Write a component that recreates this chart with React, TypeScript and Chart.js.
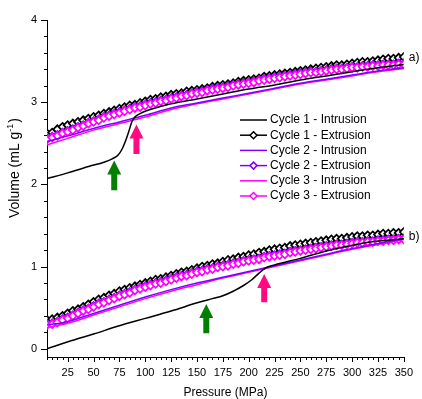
import React, { useEffect, useRef } from "react";
import { Chart, registerables } from "chart.js";
Chart.register(...registerables);

// ---------- DATA ----------
// Extrusion pressures (MPa)
const pressureExt = [
  5, 10, 15, 20, 25, 30, 35, 40, 45, 50, 55, 60, 65, 70, 75, 80, 85, 90, 95, 100,
  105, 110, 115, 120, 125, 130, 135, 140, 145, 150, 155, 160, 165, 170, 175, 180, 185, 190, 195, 200,
  205, 210, 215, 220, 225, 230, 235, 240, 245, 250, 255, 260, 265, 270, 275, 280, 285, 290, 295, 300,
  305, 310, 315, 320, 325, 330, 335, 340, 345, 350,
];

// Panel a) extrusion volumes (mL/g)
const cycle1ExtA = [
  2.62, 2.63, 2.67, 2.70, 2.72, 2.74, 2.76, 2.78, 2.80, 2.82, 2.84, 2.86, 2.88, 2.90, 2.92, 2.94, 2.96, 2.97, 2.99, 3.01,
  3.03, 3.04, 3.06, 3.07, 3.09, 3.10, 3.11, 3.13, 3.14, 3.15, 3.16, 3.17, 3.19, 3.20, 3.21, 3.22, 3.23, 3.25, 3.26, 3.27,
  3.28, 3.29, 3.31, 3.32, 3.33, 3.34, 3.35, 3.36, 3.37, 3.38, 3.39, 3.40, 3.41, 3.42, 3.43, 3.44, 3.45, 3.45, 3.46, 3.47,
  3.48, 3.49, 3.49, 3.50, 3.51, 3.52, 3.53, 3.53, 3.54, 3.55,
];
const cycle2ExtA = [
  2.56, 2.58, 2.60, 2.63, 2.65, 2.67, 2.70, 2.72, 2.75, 2.77, 2.79, 2.82, 2.84, 2.86, 2.88, 2.90, 2.92, 2.94, 2.95, 2.97,
  2.99, 3.00, 3.02, 3.03, 3.05, 3.06, 3.08, 3.09, 3.11, 3.12, 3.13, 3.15, 3.16, 3.17, 3.18, 3.19, 3.21, 3.22, 3.23, 3.24,
  3.25, 3.27, 3.28, 3.29, 3.30, 3.31, 3.32, 3.33, 3.34, 3.35, 3.36, 3.37, 3.37, 3.38, 3.39, 3.40, 3.41, 3.41, 3.42, 3.43,
  3.43, 3.44, 3.44, 3.45, 3.45, 3.46, 3.46, 3.46, 3.47, 3.47,
];
const cycle3ExtA = [
  2.55, 2.57, 2.59, 2.62, 2.64, 2.66, 2.69, 2.71, 2.74, 2.76, 2.78, 2.81, 2.83, 2.85, 2.87, 2.89, 2.91, 2.93, 2.94, 2.96,
  2.98, 2.99, 3.01, 3.02, 3.04, 3.05, 3.07, 3.08, 3.10, 3.11, 3.12, 3.14, 3.15, 3.16, 3.17, 3.18, 3.20, 3.21, 3.22, 3.23,
  3.24, 3.26, 3.27, 3.28, 3.29, 3.30, 3.31, 3.32, 3.33, 3.34, 3.35, 3.36, 3.36, 3.37, 3.38, 3.39, 3.40, 3.40, 3.41, 3.42,
  3.42, 3.43, 3.43, 3.44, 3.44, 3.45, 3.45, 3.45, 3.46, 3.46,
];

// Panel b) extrusion volumes (mL/g)
const cycle1ExtB = [
  0.35, 0.36, 0.38, 0.40, 0.43, 0.46, 0.48, 0.51, 0.54, 0.57, 0.60, 0.62, 0.65, 0.67, 0.70, 0.72, 0.74, 0.76, 0.78, 0.80,
  0.82, 0.84, 0.85, 0.87, 0.89, 0.91, 0.93, 0.94, 0.96, 0.98, 1.00, 1.01, 1.03, 1.04, 1.06, 1.08, 1.09, 1.11, 1.12, 1.14,
  1.15, 1.17, 1.18, 1.20, 1.21, 1.22, 1.23, 1.25, 1.26, 1.27, 1.28, 1.29, 1.30, 1.31, 1.32, 1.33, 1.34, 1.34, 1.35, 1.36,
  1.37, 1.37, 1.38, 1.38, 1.39, 1.40, 1.40, 1.41, 1.41, 1.42,
];
const cycle2ExtB = [
  0.30, 0.31, 0.33, 0.36, 0.38, 0.41, 0.44, 0.47, 0.49, 0.52, 0.55, 0.57, 0.60, 0.62, 0.65, 0.67, 0.69, 0.72, 0.74, 0.76,
  0.78, 0.80, 0.81, 0.83, 0.85, 0.87, 0.89, 0.90, 0.92, 0.94, 0.95, 0.97, 0.98, 1.00, 1.01, 1.02, 1.04, 1.05, 1.07, 1.08,
  1.09, 1.10, 1.12, 1.13, 1.14, 1.15, 1.16, 1.18, 1.19, 1.20, 1.21, 1.22, 1.23, 1.24, 1.25, 1.26, 1.27, 1.27, 1.28, 1.29,
  1.30, 1.30, 1.31, 1.31, 1.32, 1.32, 1.33, 1.33, 1.34, 1.34,
];
const cycle3ExtB = [
  0.29, 0.30, 0.32, 0.35, 0.37, 0.40, 0.43, 0.46, 0.48, 0.51, 0.54, 0.56, 0.59, 0.61, 0.64, 0.66, 0.68, 0.71, 0.73, 0.75,
  0.77, 0.79, 0.80, 0.82, 0.84, 0.86, 0.88, 0.89, 0.91, 0.93, 0.94, 0.96, 0.97, 0.99, 1.00, 1.01, 1.03, 1.04, 1.06, 1.07,
  1.08, 1.09, 1.11, 1.12, 1.13, 1.14, 1.15, 1.17, 1.18, 1.19, 1.20, 1.21, 1.22, 1.23, 1.24, 1.25, 1.26, 1.26, 1.27, 1.28,
  1.29, 1.29, 1.30, 1.30, 1.31, 1.31, 1.32, 1.32, 1.33, 1.33,
];

// Intrusion pressures (MPa) for cycles 2 and 3
const pressureIntr = [5, 25, 50, 75, 100, 125, 150, 175, 200, 225, 250, 275, 300, 325, 350];
const cycle2IntrA = [2.52, 2.59, 2.68, 2.76, 2.84, 2.93, 2.99, 3.05, 3.11, 3.17, 3.23, 3.28, 3.33, 3.38, 3.42];
const cycle3IntrA = [2.48, 2.56, 2.66, 2.74, 2.82, 2.91, 2.98, 3.04, 3.10, 3.16, 3.22, 3.27, 3.32, 3.37, 3.41];
const cycle2IntrB = [0.29, 0.33, 0.43, 0.53, 0.63, 0.72, 0.80, 0.87, 0.94, 1.01, 1.08, 1.15, 1.22, 1.28, 1.34];
const cycle3IntrB = [0.26, 0.31, 0.41, 0.51, 0.61, 0.70, 0.78, 0.86, 0.93, 1.00, 1.07, 1.14, 1.21, 1.27, 1.33];

// Cycle 1 intrusion (with the step)
const pressureC1IntrA = [5, 25, 46, 60, 68, 74, 78, 81, 84, 87, 90, 95, 100, 125, 150, 175, 200, 225, 250, 275, 300, 325, 350];
const cycle1IntrA = [2.07, 2.14, 2.22, 2.27, 2.31, 2.36, 2.44, 2.53, 2.64, 2.76, 2.82, 2.86, 2.89, 2.98, 3.04, 3.10, 3.16, 3.21, 3.27, 3.32, 3.37, 3.42, 3.46];
const pressureC1IntrB = [5, 29, 50, 75, 100, 125, 152, 165, 175, 185, 195, 203, 210, 216, 225, 250, 275, 300, 325, 350];
const cycle1IntrB = [0.0, 0.10, 0.18, 0.28, 0.37, 0.46, 0.565, 0.61, 0.645, 0.70, 0.77, 0.84, 0.92, 0.98, 1.02, 1.10, 1.19, 1.26, 1.31, 1.34];

// Axis ticks
const xTickValues = [25, 50, 75, 100, 125, 150, 175, 200, 225, 250, 275, 300, 325, 350];
const yTickValues = [0, 1, 2, 3, 4];

// Legend
const legendLabels = [
  "Cycle 1 - Intrusion",
  "Cycle 1 - Extrusion",
  "Cycle 2 - Intrusion",
  "Cycle 2 - Extrusion",
  "Cycle 3 - Intrusion",
  "Cycle 3 - Extrusion",
];

// Arrows (pressure, tip volume, tail volume)
const arrowPressure = [70, 91.5, 159, 215];
const arrowTip = [2.29, 2.73, 0.545, 0.91];
const arrowTail = [1.93, 2.37, 0.19, 0.565];
const arrowColorKey = ["green", "pink", "green", "pink"];

// ---------- STYLE ----------
const BLACK = "#000000";
const VIOLET = "#8000ff";
const MAGENTA = "#ff00ff";
const GREEN = "#008000";
const PINK = "#ff0a80";
const FONT = "'Liberation Sans', Arial, sans-serif";
const colors = [BLACK, BLACK, VIOLET, VIOLET, MAGENTA, MAGENTA];

const toPoints = (xs: number[], ys: number[]) => xs.map((x, i) => ({ x, y: ys[i] }));

function intrusion(label: string, xs: number[], ys: number[], color: string, order: number) {
  return {
    label,
    data: toPoints(xs, ys),
    borderColor: color,
    backgroundColor: color,
    borderWidth: 1.5,
    pointRadius: 0,
    cubicInterpolationMode: "monotone" as const,
    order,
  };
}
function extrusion(label: string, xs: number[], ys: number[], color: string, order: number) {
  return {
    label,
    data: toPoints(xs, ys),
    borderColor: color,
    backgroundColor: "#ffffff",
    borderWidth: 1,
    pointStyle: "rectRot" as const,
    pointRadius: 4,
    pointBorderWidth: 1.7,
    pointBackgroundColor: "#ffffff",
    pointBorderColor: color,
    order,
  };
}

const decorPlugin = {
  id: "decor",
  afterDraw(chart: any) {
    const ctx = chart.ctx as CanvasRenderingContext2D;
    const xs = chart.scales.x;
    const ys = chart.scales.y;
    const { left, right, bottom } = chart.chartArea;
    ctx.save();
    ctx.strokeStyle = "#000";
    ctx.lineWidth = 1;
    // x ticks (major every 25, minor every 5)
    for (let v = 5; v <= 350; v += 5) {
      const px = Math.round(xs.getPixelForValue(v)) + 0.5;
      const len = v % 25 === 0 ? 5 : 3;
      ctx.beginPath();
      ctx.moveTo(px, bottom);
      ctx.lineTo(px, bottom + len);
      ctx.stroke();
    }
    // y ticks (major every 1, minor every 0.2)
    for (let i = 0; i <= 20; i++) {
      const v = i * 0.2;
      const py = Math.round(ys.getPixelForValue(v)) + 0.5;
      const len = i % 5 === 0 ? 6 : 3;
      ctx.beginPath();
      ctx.moveTo(left, py);
      ctx.lineTo(left - len, py);
      ctx.stroke();
    }

    // arrows
    arrowPressure.forEach((p, i) => {
      const ax = xs.getPixelForValue(p);
      const tipY = ys.getPixelForValue(arrowTip[i]);
      const tailY = ys.getPixelForValue(arrowTail[i]);
      const headH = 14;
      const headW = 7;
      const shaftW = 3;
      ctx.fillStyle = arrowColorKey[i] === "green" ? GREEN : PINK;
      ctx.beginPath();
      ctx.moveTo(ax, tipY);
      ctx.lineTo(ax + headW, tipY + headH);
      ctx.lineTo(ax + shaftW, tipY + headH);
      ctx.lineTo(ax + shaftW, tailY);
      ctx.lineTo(ax - shaftW, tailY);
      ctx.lineTo(ax - shaftW, tipY + headH);
      ctx.lineTo(ax - headW, tipY + headH);
      ctx.closePath();
      ctx.fill();
    });

    // panel labels
    ctx.fillStyle = "#000";
    ctx.font = `12px ${FONT}`;
    ctx.textAlign = "left";
    ctx.textBaseline = "middle";
    ctx.fillText("a)", right + 5, ys.getPixelForValue(3.54));
    ctx.fillText("b)", right + 5, ys.getPixelForValue(1.36));

    // legend
    const lx0 = left + 193;
    const lx1 = left + 220;
    const ly0 = 120;
    const lstep = 15.2;
    legendLabels.forEach((lab, i) => {
      const y = ly0 + i * lstep;
      const c = colors[i];
      ctx.strokeStyle = c;
      ctx.lineWidth = 1.5;
      ctx.beginPath();
      ctx.moveTo(lx0, y);
      ctx.lineTo(lx1, y);
      ctx.stroke();
      if (i % 2 === 1) {
        const cx = (lx0 + lx1) / 2;
        const r = 3.5;
        ctx.fillStyle = "#fff";
        ctx.lineWidth = 1.5;
        ctx.beginPath();
        ctx.moveTo(cx, y - r);
        ctx.lineTo(cx + r, y);
        ctx.lineTo(cx, y + r);
        ctx.lineTo(cx - r, y);
        ctx.closePath();
        ctx.fill();
        ctx.stroke();
      }
      ctx.fillStyle = "#000";
      ctx.font = `12px ${FONT}`;
      ctx.textAlign = "left";
      ctx.textBaseline = "middle";
      ctx.fillText(lab, lx1 + 3, y);
    });

    // x title
    ctx.fillStyle = "#000";
    ctx.font = `12px ${FONT}`;
    ctx.textAlign = "center";
    ctx.textBaseline = "alphabetic";
    ctx.fillText("Pressure (MPa)", (left + right) / 2, 396);

    // y title with superscript
    ctx.save();
    ctx.translate(19, 168);
    ctx.rotate(-Math.PI / 2);
    const mainFont = `14px ${FONT}`;
    const supFont = `9px ${FONT}`;
    ctx.font = mainFont;
    const t1 = "Volume (mL g";
    const t3 = ")";
    const w1 = ctx.measureText(t1).width;
    const w3 = ctx.measureText(t3).width;
    ctx.font = supFont;
    const t2 = "-1";
    const w2 = ctx.measureText(t2).width;
    const total = w1 + w2 + w3 + 1;
    let x = -total / 2;
    ctx.textAlign = "left";
    ctx.textBaseline = "alphabetic";
    ctx.font = mainFont;
    ctx.fillText(t1, x, 0);
    x += w1;
    ctx.font = supFont;
    ctx.fillText(t2, x, -6);
    x += w2 + 1;
    ctx.font = mainFont;
    ctx.fillText(t3, x, 0);
    ctx.restore();

    ctx.restore();
  },
};

export default function App() {
  const ref = useRef<HTMLCanvasElement | null>(null);
  useEffect(() => {
    if (!ref.current) return;
    const chart = new Chart(ref.current, {
      type: "line",
      data: {
        datasets: [
          extrusion("Cycle 1 - Extrusion a", pressureExt, cycle1ExtA, BLACK, 6),
          extrusion("Cycle 2 - Extrusion a", pressureExt, cycle2ExtA, VIOLET, 5),
          extrusion("Cycle 3 - Extrusion a", pressureExt, cycle3ExtA, MAGENTA, 4),
          intrusion("Cycle 2 - Intrusion a", pressureIntr, cycle2IntrA, VIOLET, 2),
          intrusion("Cycle 3 - Intrusion a", pressureIntr, cycle3IntrA, MAGENTA, 3),
          intrusion("Cycle 1 - Intrusion a", pressureC1IntrA, cycle1IntrA, BLACK, 1),
          extrusion("Cycle 1 - Extrusion b", pressureExt, cycle1ExtB, BLACK, 6),
          extrusion("Cycle 2 - Extrusion b", pressureExt, cycle2ExtB, VIOLET, 5),
          extrusion("Cycle 3 - Extrusion b", pressureExt, cycle3ExtB, MAGENTA, 4),
          intrusion("Cycle 2 - Intrusion b", pressureIntr, cycle2IntrB, VIOLET, 2),
          intrusion("Cycle 3 - Intrusion b", pressureIntr, cycle3IntrB, MAGENTA, 3),
          intrusion("Cycle 1 - Intrusion b", pressureC1IntrB, cycle1IntrB, BLACK, 1),
        ] as any,
      },
      options: {
        responsive: false,
        animation: false,
        layout: { padding: { left: 0, top: 20, right: 17, bottom: 0 } },
        plugins: { legend: { display: false }, tooltip: { enabled: false } },
        scales: {
          x: {
            type: "linear",
            min: 5,
            max: 350,
            afterBuildTicks: (s: any) => {
              s.ticks = xTickValues.map((v) => ({ value: v }));
            },
            afterFit: (s: any) => {
              s.height = 42;
            },
            grid: { display: true, drawOnChartArea: false, drawTicks: false },
            border: { display: true, color: "#000", width: 1 },
            ticks: {
              color: "#000",
              font: { family: FONT, size: 11 },
              padding: 9,
              maxRotation: 0,
              autoSkip: false,
            },
          },
          y: {
            type: "linear",
            min: -0.1,
            max: 4,
            afterBuildTicks: (s: any) => {
              s.ticks = yTickValues.map((v) => ({ value: v }));
            },
            afterFit: (s: any) => {
              s.width = 47;
            },
            grid: { display: true, drawOnChartArea: false, drawTicks: false },
            border: { display: true, color: "#000", width: 1 },
            ticks: {
              color: "#000",
              font: { family: FONT, size: 11 },
              padding: 10,
              autoSkip: false,
            },
          },
        },
      },
      plugins: [decorPlugin],
    });
    return () => chart.destroy();
  }, []);
  return (
    <div style={{ position: "fixed", left: 0, top: 0, width: 422, height: 399, background: "#fff" }}>
      <canvas ref={ref} width={422} height={399} style={{ display: "block" }} />
    </div>
  );
}
